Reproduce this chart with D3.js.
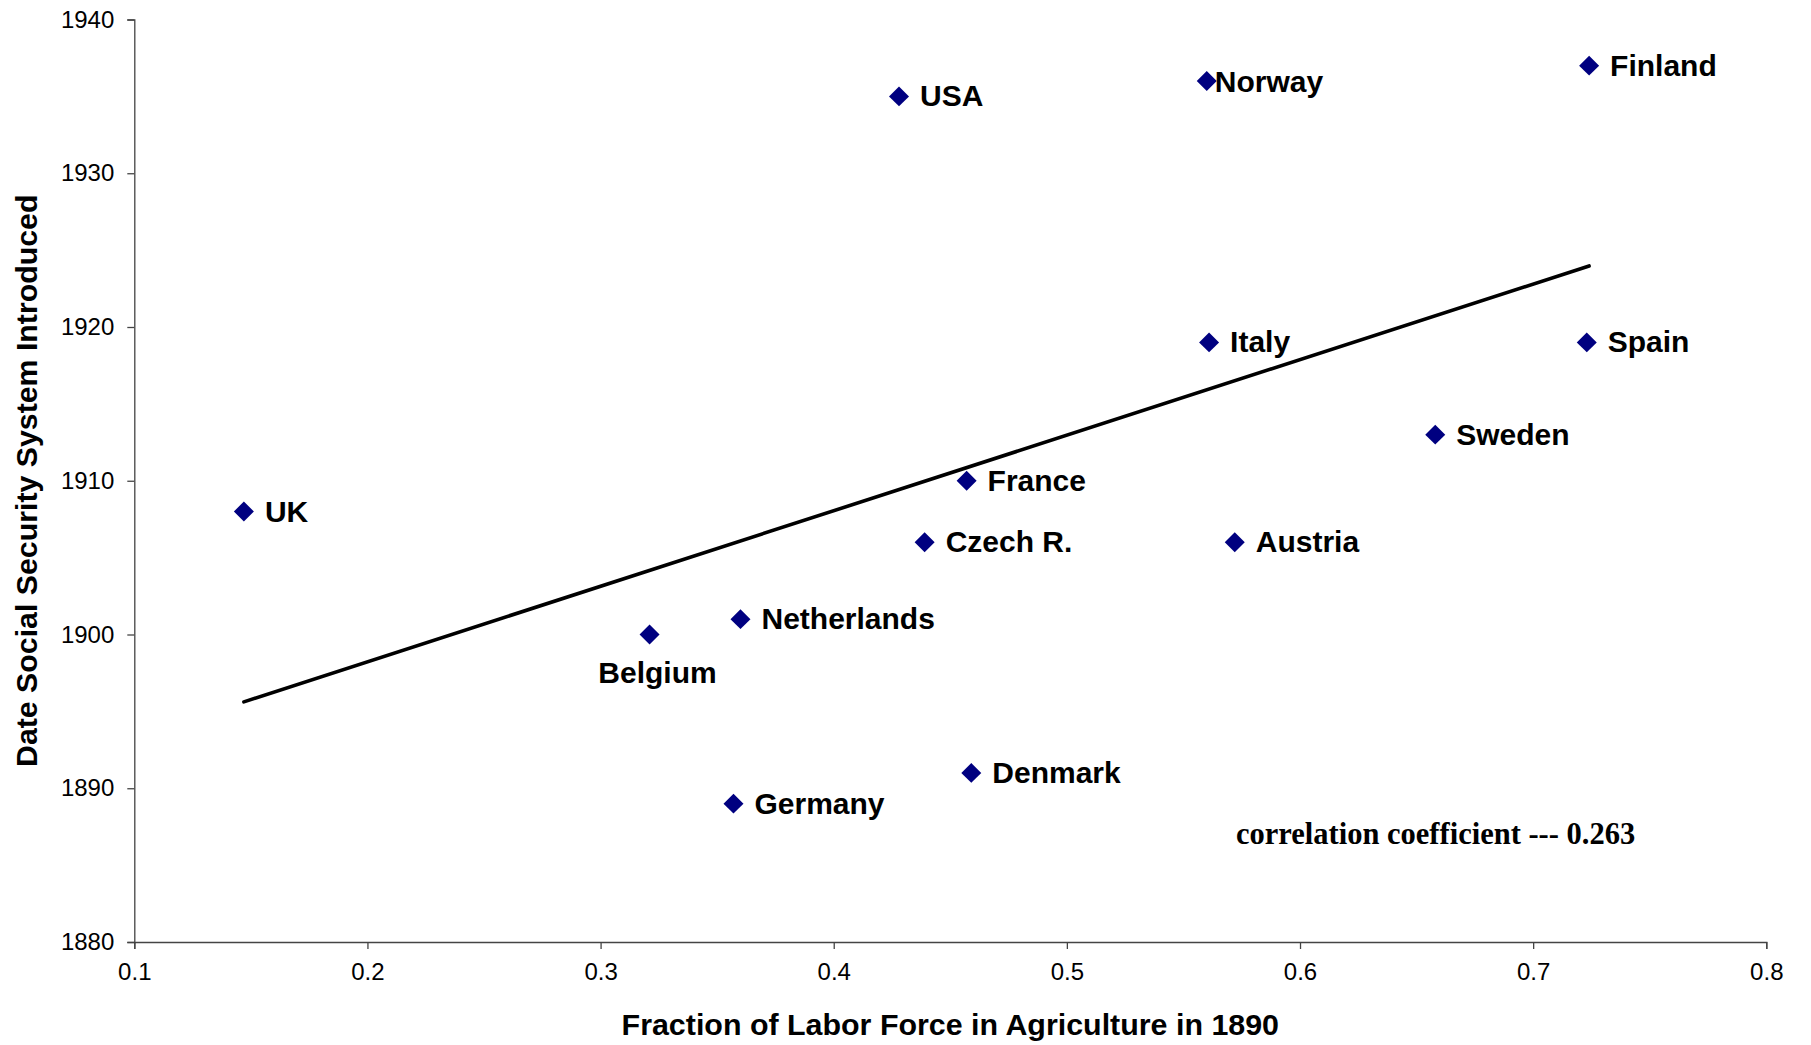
<!DOCTYPE html>
<html>
<head>
<meta charset="utf-8">
<script src="https://cdn.jsdelivr.net/npm/d3@7"></script>
<style>
  html, body { margin: 0; padding: 0; background: #fff; }
  svg { display: block; }
</style>
</head>
<body>
<svg id="chart" width="1811" height="1045"></svg>
<script>
const countries = ["UK","USA","Norway","Finland","Italy","Spain","Sweden","France","Czech R.","Austria","Netherlands","Belgium","Denmark","Germany"];
const agriShare = [0.147,0.428,0.560,0.724,0.561,0.723,0.658,0.457,0.439,0.572,0.360,0.321,0.459,0.357];
const yearIntroduced = [1908,1935,1936,1937,1919,1919,1913,1910,1906,1906,1901,1900,1891,1889];
const xTicks = [0.1,0.2,0.3,0.4,0.5,0.6,0.7,0.8];
const yTicks = [1880,1890,1900,1910,1920,1930,1940];
const xTitle = "Fraction of Labor Force in Agriculture in 1890";
const yTitle = "Date Social Security System Introduced";
const noteText = "correlation coefficient --- 0.263";

const svg = d3.select("#chart");
const x = d3.scaleLinear().domain([0.1, 0.8]).range([134.3, 1766.3]);
const y = d3.scaleLinear().domain([1880, 1940]).range([942, 19.5]);

const sans = "Arial, 'Liberation Sans', sans-serif";
const serif = "'Times New Roman', 'Liberation Serif', serif";

// axes
const xAxis = svg.append("g").attr("transform", `translate(0,${y(1880)})`)
  .call(d3.axisBottom(x).tickValues(xTicks).tickSize(7).tickPadding(14).tickFormat(d3.format(".1f")));
const yAxis = svg.append("g").attr("transform", `translate(${x(0.1)},0)`)
  .call(d3.axisLeft(y).tickValues(yTicks).tickSize(7).tickPadding(13).tickFormat(d3.format("d")));
[xAxis, yAxis].forEach(g => {
  g.selectAll("path, line").attr("stroke", "#444").attr("stroke-width", 1.3);
  g.selectAll("text").attr("font-family", sans).attr("font-size", 24).attr("fill", "#000");
});

// trend line (least squares from the data)
const n = agriShare.length;
const mx = d3.mean(agriShare), my = d3.mean(yearIntroduced);
let sxy = 0, sxx = 0;
for (let i = 0; i < n; i++) { sxy += (agriShare[i]-mx)*(yearIntroduced[i]-my); sxx += (agriShare[i]-mx)**2; }
const slope = sxy / sxx, intercept = my - slope * mx;
const [x0, x1] = d3.extent(agriShare);
svg.append("path")
  .attr("d", d3.line()([[x(x0), y(intercept + slope*x0)], [x(x1), y(intercept + slope*x1)]]))
  .attr("stroke", "#000").attr("stroke-width", 3.6).attr("stroke-linecap", "round").attr("fill", "none");

// points
const data = countries.map((c, i) => ({ name: c, x: agriShare[i], y: yearIntroduced[i] }));
svg.append("g").selectAll("path").data(data).join("path")
  .attr("transform", d => `translate(${x(d.x)},${y(d.y)}) rotate(45)`)
  .attr("d", d3.symbol().type(d3.symbolSquare).size(200))
  .attr("fill", "#000080");

// labels
const labelPlace = { "Norway": { dx: 8, dy: 11, anchor: "start" }, "Belgium": { dx: 8, dy: 48, anchor: "middle" } };
svg.append("g").selectAll("text").data(data).join("text")
  .attr("x", d => x(d.x) + (labelPlace[d.name] ? labelPlace[d.name].dx : 21))
  .attr("y", d => y(d.y) + (labelPlace[d.name] ? labelPlace[d.name].dy : 10))
  .attr("text-anchor", d => labelPlace[d.name] ? labelPlace[d.name].anchor : "start")
  .attr("font-family", sans).attr("font-weight", "bold").attr("font-size", 30).attr("fill", "#000")
  .text(d => d.name);

// axis titles
svg.append("text").attr("x", (x(0.1)+x(0.8))/2).attr("y", 1035)
  .attr("text-anchor", "middle").attr("font-family", sans).attr("font-weight", "bold").attr("font-size", 30.4)
  .text(xTitle);
svg.append("text").attr("transform", `translate(37,${(y(1880)+y(1940))/2}) rotate(-90)`)
  .attr("text-anchor", "middle").attr("font-family", sans).attr("font-weight", "bold").attr("font-size", 30.3)
  .text(yTitle);

// note
svg.append("text").attr("x", 1236).attr("y", 844).attr("font-family", serif).attr("font-weight", "bold")
  .attr("font-size", 30.5).text(noteText);
</script>
</body>
</html>
